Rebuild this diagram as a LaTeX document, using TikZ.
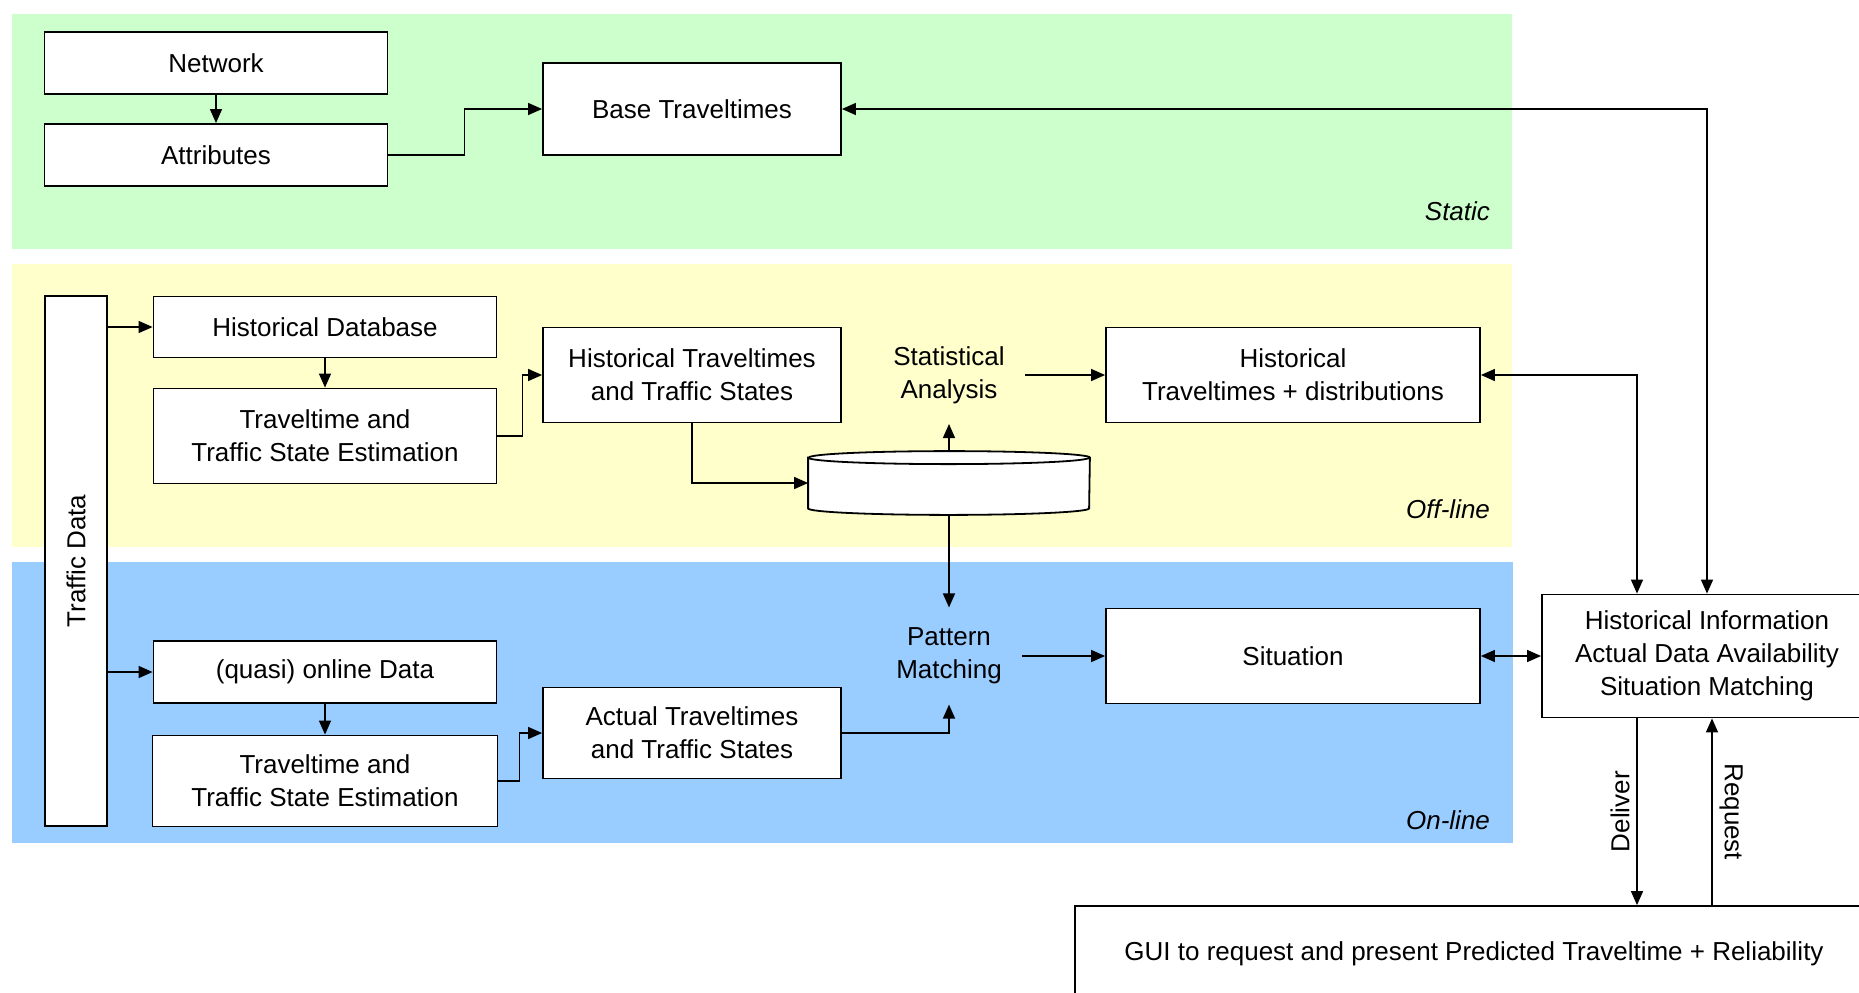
\documentclass[tikz,border=0pt]{standalone}
\usepackage{fontspec}
\setmainfont{Liberation Sans}
\usetikzlibrary{arrows.meta}

\definecolor{staticbg}{RGB}{204,255,204}
\definecolor{offlinebg}{RGB}{255,255,204}
\definecolor{onlinebg}{RGB}{153,204,255}

\begin{document}
\begin{tikzpicture}[x=0.5pt, y=-0.5pt,
    font=\fontsize{13}{16.5}\selectfont,
    box/.style={draw, line width=0.9pt, fill=white, align=center, inner sep=0pt},
    lbl/.style={align=center, inner sep=10pt},
    zone/.style={font=\fontsize{13}{16.5}\selectfont\itshape, anchor=east},
    arr/.style={-{Triangle[length=7pt, width=6pt]}, line width=0.7pt},
    both/.style={{Triangle[length=7pt, width=6pt]}-{Triangle[length=7pt, width=6pt]}, line width=0.7pt}]
\useasboundingbox (0,0) rectangle (1859,992);

% Bands
\fill[staticbg] (12,14) rectangle (1512,249);
\fill[offlinebg] (12,264) rectangle (1512,547);
\fill[onlinebg] (12,562) rectangle (1513,843);
\node[zone] (static) at (1497,211) {Static};
\node[zone] (offline) at (1497,509) {Off-line};
\node[zone] (online) at (1497,820) {On-line};

% Static part
\node[box, minimum width=171.5pt, minimum height=31pt] (network) at (216,63) {Network};
\node[box, minimum width=171.5pt, minimum height=31pt] (attrib) at (216,155) {Attributes};
\node[box, minimum width=149pt, minimum height=46pt] (basett) at (692,109) {Base Traveltimes};

% Off-line part
\node[box, rotate=90, minimum width=265pt, minimum height=31pt] (traffic) at (76,561) {Traffic Data};
\node[box, minimum width=171.5pt, minimum height=30.5pt] (histdb) at (325,327) {Historical Database};
\node[box, minimum width=171.5pt, minimum height=47.5pt] (estoff) at (325,436) {Traveltime and\\Traffic State Estimation};
\node[box, minimum width=149pt, minimum height=47.5pt] (histtt) at (692,375) {Historical Traveltimes\\and Traffic States};
\node[lbl] (stat) at (949,375) {Statistical\\Analysis};
\node[box, minimum width=187pt, minimum height=47.5pt] (histdist) at (1293,375) {Historical\\Traveltimes + distributions};

% Database drum
\node[minimum width=140.5pt, minimum height=31.5pt, inner sep=0pt] (db) at (949,483) {};
\draw[line width=0.9pt, fill=white] ([yshift=-3.25pt]db.north west) -- ([yshift=3.25pt]db.south west)
    arc[start angle=180, end angle=360, x radius=70.25pt, y radius=3.25pt]
    -- ([yshift=-3.25pt]db.north east)
    arc[start angle=0, end angle=180, x radius=70.25pt, y radius=3.25pt] -- cycle;
\draw[line width=0.9pt] ([yshift=-3.25pt]db.north west)
    arc[start angle=180, end angle=360, x radius=70.25pt, y radius=3.25pt];

% On-line part
\node[box, minimum width=171.5pt, minimum height=31pt] (quasi) at (325,672) {(quasi) online Data};
\node[box, minimum width=172.5pt, minimum height=45.5pt] (eston) at (325,781) {Traveltime and\\Traffic State Estimation};
\node[box, minimum width=149pt, minimum height=45.5pt] (acttt) at (692,733) {Actual Traveltimes\\and Traffic States};
\node[lbl] (pattern) at (949,656) {Pattern\\Matching};
\node[box, minimum width=187pt, minimum height=47.5pt] (situation) at (1293,656) {Situation};

% Information and GUI
\node[box, minimum width=165pt, minimum height=61.5pt] (histinfo) at (1707,656) {Historical Information\\Actual Data Availability\\Situation Matching};
\node[box, minimum width=399pt, minimum height=48pt] (gui) at (1474,954) {GUI to request and present Predicted Traveltime + Reliability};
\coordinate (deliverx) at (1637,0);
\coordinate (requestx) at (1712,0);

% Connectors
\draw[arr] (network) -- (attrib);
\draw[arr] (attrib.east) -- ++(76,0) |- (basett.west);
\draw[both] (basett.east) -| (histinfo.north);
\draw[arr] (traffic.south |- histdb.west) -- (histdb.west);
\draw[arr] (traffic.south |- quasi.west) -- (quasi.west);
\draw[arr] (histdb) -- (estoff);
\draw[arr] (estoff.east) -- ++(25,0) |- (histtt.west);
\draw[arr] (histtt.south) |- (db.west);
\draw[arr] (db.north) -- (stat.south);
\draw[arr] (stat) -- (histdist);
\draw[both] (histdist.east) -| (histinfo.north -| deliverx);
\draw[arr] (db.south) -- (pattern.north);
\draw[arr] (quasi) -- (eston);
\draw[arr] (eston.east) -- ++(21,0) |- (acttt.west);
\draw[arr] (acttt.east) -| (pattern.south);
\draw[arr] (pattern) -- (situation);
\draw[both] (situation) -- (histinfo);
\draw[arr] (histinfo.south -| deliverx) -- node[midway, rotate=90, anchor=south] {Deliver} (gui.north -| deliverx);
\draw[arr] (gui.north -| requestx) -- node[midway, rotate=-90, anchor=south] {Request} (histinfo.south -| requestx);
\end{tikzpicture}
\end{document}
